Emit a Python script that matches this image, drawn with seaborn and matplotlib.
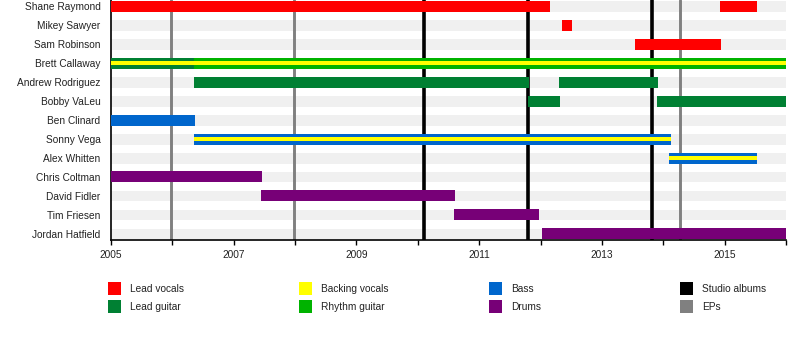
import matplotlib
matplotlib.use("Agg")
import matplotlib.pyplot as plt
from matplotlib.patches import Rectangle
import seaborn as sns

# ---- data ----
members = ["Shane Raymond", "Mikey Sawyer", "Sam Robinson", "Brett Callaway",
           "Andrew Rodriguez", "Bobby VaLeu", "Ben Clinard", "Sonny Vega",
           "Alex Whitten", "Chris Coltman", "David Fidler", "Tim Friesen",
           "Jordan Hatfield"]

span_member = ["Shane Raymond", "Shane Raymond", "Mikey Sawyer", "Sam Robinson",
               "Brett Callaway", "Brett Callaway",
               "Andrew Rodriguez", "Andrew Rodriguez",
               "Bobby VaLeu", "Bobby VaLeu",
               "Ben Clinard", "Sonny Vega", "Alex Whitten",
               "Chris Coltman", "David Fidler", "Tim Friesen", "Jordan Hatfield"]
span_role = ["Lead vocals", "Lead vocals", "Lead vocals", "Lead vocals",
             "Lead guitar", "Rhythm guitar",
             "Lead guitar", "Lead guitar",
             "Lead guitar", "Lead guitar",
             "Bass", "Bass", "Bass",
             "Drums", "Drums", "Drums", "Drums"]
span_start = [2005.0, 2014.93, 2012.35, 2013.54,
              2005.0, 2006.35,
              2006.35, 2012.30,
              2011.80, 2013.90,
              2005.0, 2006.35, 2014.10,
              2005.0, 2007.45, 2010.59, 2012.02]
span_end = [2012.15, 2015.53, 2012.51, 2014.94,
            2006.35, 2016.0,
            2011.81, 2013.91,
            2012.32, 2016.0,
            2006.37, 2014.12, 2015.53,
            2007.46, 2010.60, 2011.98, 2016.0]
span_backing = [False, False, False, False,
                True, True,
                False, False,
                False, False,
                False, True, True,
                False, False, False, False]

studio_albums = [2010.10, 2011.80, 2013.82]
eps = [2005.98, 2007.98, 2014.28]

x_start, x_end = 2005, 2016
year_labels = [2005, 2007, 2009, 2011, 2013, 2015]

legend_labels = ["Lead vocals", "Lead guitar", "Backing vocals", "Rhythm guitar",
                 "Bass", "Drums", "Studio albums", "EPs"]

# ---- styles ----
role_colors = {
    "Lead vocals": "#ff0000",
    "Lead guitar": "#008033",
    "Backing vocals": "#ffff00",
    "Rhythm guitar": "#00b300",
    "Bass": "#0066cc",
    "Drums": "#770077",
    "Studio albums": "#000000",
    "EPs": "#808080",
}

sns.set_theme(style="white")
plt.rcParams["font.family"] = ["Liberation Sans", "DejaVu Sans"]
FS = 7.3

fig = plt.figure(figsize=(8, 3.6), dpi=100)
ax = fig.add_axes([111 / 800, 1 - 240 / 360, 675 / 800, 240 / 360])

bar_h = 11 / 19

# background bands, one per member
sns.barplot(x=[x_end] * len(members), y=members, orient="h", color="#f0f0f0",
            saturation=1, width=bar_h, linewidth=0, ax=ax, zorder=1)

for x in eps:
    ax.axvline(x, color=role_colors["EPs"], lw=2.1, zorder=2)
for x in studio_albums:
    ax.axvline(x, color=role_colors["Studio albums"], lw=2.6, zorder=2)

row = {m: i for i, m in enumerate(members)}
for m, r, s, e, b in zip(span_member, span_role, span_start, span_end, span_backing):
    ax.barh(row[m], e - s, left=s, height=bar_h, color=role_colors[r],
            linewidth=0, zorder=3)
    if b:
        ax.barh(row[m], e - s, left=s, height=bar_h / 3,
                color=role_colors["Backing vocals"], linewidth=0, zorder=4)

ax.set_xlim(x_start, x_end)
ax.set_ylim(len(members) - 1 + 6 / 19, -6 / 19)
ax.set_xlabel("")
ax.set_ylabel("")

ax.set_xticks(year_labels)
ax.set_xticklabels([str(y) for y in year_labels], fontsize=FS)
ax.set_xticks(range(x_start, x_end + 1), minor=True)
ax.tick_params(axis="x", which="both", bottom=True, length=3.6, width=1,
               color="black", direction="out", pad=3.5, labelcolor="#222222")
ax.tick_params(axis="y", left=False, length=0, pad=7.5, labelsize=FS,
               labelcolor="#222222")

for side in ["top", "right"]:
    ax.spines[side].set_visible(False)
for side in ["left", "bottom"]:
    ax.spines[side].set_color("black")
    ax.spines[side].set_linewidth(1.2)

# legend drawn as figure patches, four columns of two
col_x = [108, 299, 489, 680]
row_y = [282, 300]
for i, lab in enumerate(legend_labels):
    cx = col_x[i // 2]
    cy = row_y[i % 2]
    fig.add_artist(Rectangle((cx / 800, 1 - (cy + 13) / 360), 13 / 800, 13 / 360,
                             transform=fig.transFigure, color=role_colors[lab],
                             linewidth=0))
    fig.text((cx + 22) / 800, 1 - (cy + 7) / 360, lab, fontsize=FS,
             va="center", ha="left", color="#222222")

fig.savefig("out.png", dpi=100)
